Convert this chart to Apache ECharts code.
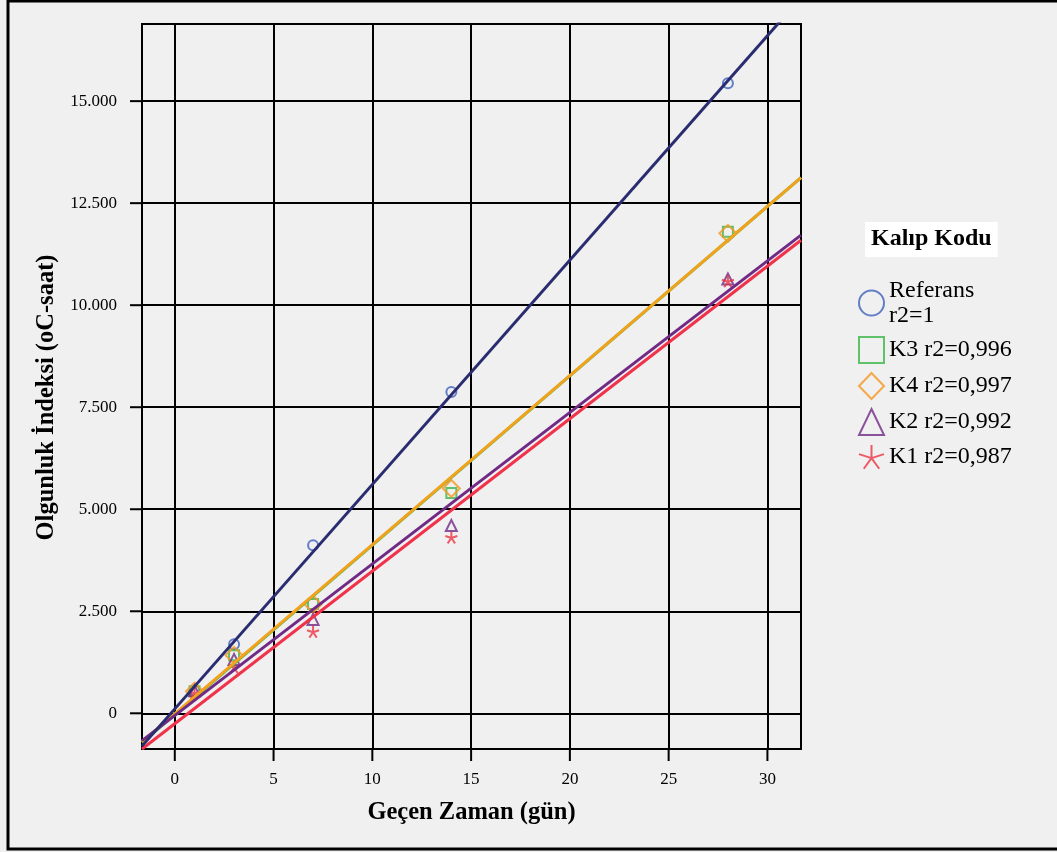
<!DOCTYPE html>
<html><head><meta charset="utf-8">
<script src="https://cdn.jsdelivr.net/npm/echarts@6/dist/echarts.min.js"></script>
<style>html,body{margin:0;padding:0;background:#f0f0f0}#c{width:1057px;height:852px}</style>
</head><body><div id="c"></div>
<script>
// ---- data ----
const days = [1, 3, 7, 14, 28];
const referans = [560, 1690, 4120, 7870, 15440];
const k3 = [540, 1420, 2680, 5400, 11800];
const k4 = [540, 1420, 2670, 5510, 11760];
const k2 = [550, 1320, 2300, 4600, 10640];
const k1 = [500, 1130, 2000, 4310, 10590];
const seriesNames = ['Referans\nr2=1', 'K3 r2=0,996', 'K4 r2=0,997', 'K2 r2=0,992', 'K1 r2=0,987'];
const xTicks = [0, 5, 10, 15, 20, 25, 30];
const yTicks = [0, 2500, 5000, 7500, 10000, 12500, 15000];
const xRange = [-1.66, 31.7];
const yRange = [-875, 16890];
const xTitle = 'Geçen Zaman (gün)';
const yTitle = 'Olgunluk İndeksi (oC-saat)';
const legendTitle = 'Kalıp Kodu';

const FONT = "'Liberation Serif', 'Times New Roman', serif";
const STAR = 'path://M0,-10L0,0M0,0L9.51,-3.09M0,0L5.88,8.09M0,0L-5.88,8.09M0,0L-9.51,-3.09';
const TICK_LEN = 12;

const groups = [
  {name: seriesNames[0], y: referans, sym: 'circle',   size: 10, mark: '#4062bd', line: '#2a2c70'},
  {name: seriesNames[1], y: k3,       sym: 'rect',     size: 10, mark: '#3cb54a', line: '#3cb54a'},
  {name: seriesNames[2], y: k4,       sym: 'diamond',  size: 17, mark: '#f7961e', line: '#f4a21c'},
  {name: seriesNames[3], y: k2,       sym: 'triangle', size: 11, mark: '#6f2a84', line: '#702a85'},
  {name: seriesNames[4], y: k1,       sym: STAR,       size: 12, mark: '#ee3344', line: '#f0324a'}
];

function fit(xs, ys) {
  const n = xs.length;
  const mx = xs.reduce((a, b) => a + b, 0) / n;
  const my = ys.reduce((a, b) => a + b, 0) / n;
  let sxy = 0, sxx = 0;
  for (let i = 0; i < n; i++) { sxy += (xs[i] - mx) * (ys[i] - my); sxx += (xs[i] - mx) ** 2; }
  const b = sxy / sxx, a = my - b * mx;
  return [[xRange[0], a + b * xRange[0]], [xRange[1], a + b * xRange[1]]];
}

function fmtY(v) {
  if (v === 0) return '0';
  const th = Math.floor(v / 1000), r = v % 1000;
  return th + '.' + String(r).padStart(3, '0');
}

const scatterSeries = groups.map(g => ({
  type: 'scatter', name: g.name, symbol: g.sym, symbolSize: g.size,
  data: days.map((d, i) => [d, g.y[i]]),
  itemStyle: {color: 'transparent', borderColor: g.mark, borderWidth: 2},
  z: 2
}));
const lineOrder = [1, 2, 3, 4, 0];
const lineSeries = lineOrder.map(i => ({
  type: 'line', name: groups[i].name + ' fit', data: fit(days, groups[i].y),
  showSymbol: false, symbol: 'none', lineStyle: {color: groups[i].line, width: 3},
  z: 3, silent: true
}));

// outward axis ticks, positioned through the axes' own scales
const tickSeries = [
  {type: 'custom', name: 'xticks', silent: true, clip: false, z: 1,
   data: xTicks.map(v => [v, yRange[0]]),
   renderItem: (params, api) => {
     const p = api.coord([api.value(0), api.value(1)]);
     return {type: 'line', shape: {x1: p[0], y1: p[1], x2: p[0], y2: p[1] + TICK_LEN},
             style: {stroke: '#000', lineWidth: 2}};
   }},
  {type: 'custom', name: 'yticks', silent: true, clip: false, z: 1,
   data: yTicks.map(v => [xRange[0], v]),
   renderItem: (params, api) => {
     const p = api.coord([api.value(0), api.value(1)]);
     return {type: 'line', shape: {x1: p[0] - TICK_LEN, y1: p[1], x2: p[0], y2: p[1]},
             style: {stroke: '#000', lineWidth: 2}};
   }}
];

const chart = echarts.init(document.getElementById('c'), null, {renderer: 'canvas'});
chart.setOption({
  animation: false,
  backgroundColor: '#f0f0f0',
  textStyle: {fontFamily: FONT},
  grid: {left: 142, top: 24, width: 659, height: 725, show: true, backgroundColor: '#f0f0f0',
         borderColor: '#000', borderWidth: 2, containLabel: false, outerBoundsMode: 'none'},
  title: {text: legendTitle, left: 865, top: 222, backgroundColor: '#fff', padding: [5, 6, 6, 6],
          textStyle: {fontFamily: FONT, fontWeight: 'bold', fontSize: 24, color: '#000', lineHeight: 24}},
  legend: {
    data: seriesNames, orient: 'vertical', left: 858, top: 278, padding: 0,
    itemWidth: 25, itemHeight: 26, itemGap: 8,
    textStyle: {fontFamily: FONT, fontSize: 24, color: '#000', lineHeight: 25}
  },
  xAxis: {
    type: 'value', min: xRange[0], max: xRange[1],
    name: xTitle, nameLocation: 'middle', nameGap: 51,
    nameTextStyle: {fontFamily: FONT, fontWeight: 'bold', fontSize: 24.5, color: '#000'},
    axisLine: {show: true, onZero: false, lineStyle: {color: '#000', width: 2}},
    axisTick: {show: true, customValues: xTicks, length: 0, lineStyle: {color: '#000', width: 2}},
    axisLabel: {customValues: xTicks, margin: 22, fontFamily: FONT, fontSize: 17, color: '#000'},
    splitLine: {show: true, lineStyle: {color: '#000', width: 2}}
  },
  yAxis: {
    type: 'value', min: yRange[0], max: yRange[1],
    name: yTitle, nameLocation: 'middle', nameGap: 79,
    nameTextStyle: {fontFamily: FONT, fontWeight: 'bold', fontSize: 24.5, color: '#000', padding: [0, 22, 0, 0]},
    axisLine: {show: true, onZero: false, lineStyle: {color: '#000', width: 2}},
    axisTick: {show: true, customValues: yTicks, length: 0, lineStyle: {color: '#000', width: 2}},
    axisLabel: {customValues: yTicks, margin: 25, fontFamily: FONT, fontSize: 17, color: '#000', formatter: fmtY},
    splitLine: {show: true, lineStyle: {color: '#000', width: 2}}
  },
  graphic: [{type: 'rect', shape: {x: 8, y: 1, width: 1060, height: 848},
             style: {fill: 'none', stroke: '#000', lineWidth: 3}, silent: true}],
  series: scatterSeries.concat(lineSeries, tickSeries)
});
</script></body></html>
